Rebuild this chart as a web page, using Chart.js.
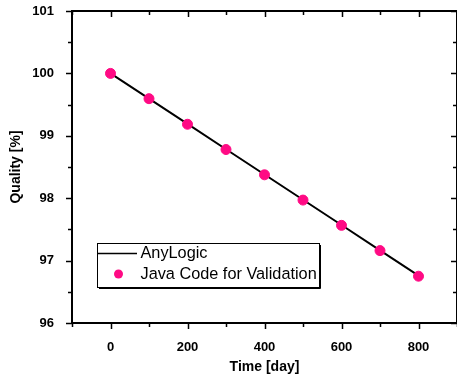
<!DOCTYPE html>
<html>
<head>
<meta charset="utf-8">
<script src="https://cdn.jsdelivr.net/npm/chart.js@4"></script>
<style>
  html, body { margin: 0; padding: 0; background: #fff; overflow: hidden; }
  #wrap { width: 457px; height: 376px; position: relative; }
</style>
</head>
<body>
<div id="wrap"><canvas id="plot"></canvas></div>
<script>
const DAYS = [0, 100, 200, 300, 400, 500, 600, 700, 800];
const ANYLOGIC_QUALITY = [100, 99.595, 99.19, 98.785, 98.38, 97.975, 97.57, 97.165, 96.76];
const JAVA_QUALITY = [100, 99.595, 99.185, 98.78, 98.375, 97.97, 97.565, 97.16, 96.75];
const X_LABELS = [0, 200, 400, 600, 800];
const Y_LABELS = [96, 97, 98, 99, 100, 101];

const PINK = '#ff0a84';
const TICK_FONT = { family: 'Liberation Sans, Arial, sans-serif', size: 13, weight: 'bold' };
const TITLE_FONT = { family: 'Liberation Sans, Arial, sans-serif', size: 14, weight: 'bold' };

const toPoints = (values) => values.map((y, i) => ({ x: DAYS[i], y }));

// frame, ticks on all four sides, legend box
const framePlugin = {
  id: 'frame',
  afterDraw(chart) {
    const { ctx, chartArea: a, scales } = chart;
    ctx.save();
    ctx.strokeStyle = '#000';
    ctx.lineWidth = 2;
    ctx.strokeRect(a.left, a.top, a.right - a.left, a.bottom - a.top);

    ctx.lineWidth = 1.5;
    ctx.beginPath();
    scales.x.ticks.forEach((t) => {
      const px = Math.round(scales.x.getPixelForValue(t.value)) + 0.5;
      const len = X_LABELS.includes(t.value) ? 6 : 4;
      ctx.moveTo(px, a.bottom); ctx.lineTo(px, a.bottom + len);
      ctx.moveTo(px, a.top); ctx.lineTo(px, a.top + len);
    });
    scales.y.ticks.forEach((t) => {
      const py = Math.round(scales.y.getPixelForValue(t.value)) + 0.5;
      const len = Y_LABELS.includes(t.value) ? 6 : 4;
      ctx.moveTo(a.left, py); ctx.lineTo(a.left - len, py);
      ctx.moveTo(a.right, py); ctx.lineTo(a.right - len, py);
    });
    ctx.stroke();

    // legend
    ctx.fillStyle = '#fff';
    ctx.fillRect(97.5, 243.5, 222, 44);
    ctx.lineWidth = 1;
    ctx.strokeRect(97.5, 243.5, 222, 44);
    ctx.beginPath();
    ctx.moveTo(99, 288.5); ctx.lineTo(320.5, 288.5); ctx.lineTo(320.5, 245);
    ctx.stroke();
    ctx.lineWidth = 1.5;
    ctx.beginPath();
    ctx.moveTo(98, 253.5); ctx.lineTo(137, 253.5);
    ctx.stroke();
    ctx.fillStyle = PINK;
    ctx.beginPath();
    ctx.arc(118.5, 274, 4.5, 0, Math.PI * 2);
    ctx.fill();
    ctx.fillStyle = '#000';
    ctx.font = '16.3px "Liberation Sans", Arial, sans-serif';
    ctx.textBaseline = 'middle';
    ctx.fillText('AnyLogic', 140.5, 254);
    ctx.fillText('Java Code for Validation', 140.5, 275);
    ctx.restore();
  }
};

new Chart(document.getElementById('plot'), {
  type: 'line',
  data: {
    datasets: [
      {
        label: 'AnyLogic',
        data: toPoints(ANYLOGIC_QUALITY),
        borderColor: '#000',
        borderWidth: 2,
        pointRadius: 0,
        showLine: true,
        order: 2
      },
      {
        label: 'Java Code for Validation',
        data: toPoints(JAVA_QUALITY),
        showLine: false,
        pointRadius: 5,
        pointBackgroundColor: PINK,
        pointBorderColor: PINK,
        order: 1
      }
    ]
  },
  options: {
    responsive: true,
    maintainAspectRatio: false,
    animation: false,
    layout: { autoPadding: false, padding: { top: 11, right: -2, left: 0, bottom: 0 } },
    plugins: { legend: { display: false }, tooltip: { enabled: false } },
    scales: {
      x: {
        type: 'linear',
        min: -100,
        max: 900,
        afterFit: (s) => { s.height = 53; s.paddingLeft = 0; s.paddingRight = 0; },
        grid: { display: false },
        border: { display: false },
        ticks: {
          stepSize: 100,
          autoSkip: false,
          maxRotation: 0,
          padding: 9,
          color: '#000',
          font: TICK_FONT,
          callback: (v) => (X_LABELS.includes(v) ? String(v) : '')
        },
        title: { display: true, text: 'Time [day]', color: '#000', font: TITLE_FONT, padding: { top: 0, bottom: 0 } }
      },
      y: {
        type: 'linear',
        min: 96,
        max: 101,
        afterFit: (s) => { s.width = 72; s.paddingTop = 0; s.paddingBottom = 0; },
        grid: { display: false },
        border: { display: false },
        ticks: {
          stepSize: 0.5,
          autoSkip: false,
          padding: 10,
          color: '#000',
          font: TICK_FONT,
          callback: (v) => (Y_LABELS.includes(v) ? String(v) : '')
        },
        title: { display: true, text: 'Quality [%]', color: '#000', font: TITLE_FONT, padding: { top: 8, bottom: 0 } }
      }
    }
  },
  plugins: [framePlugin]
});
</script>
</body>
</html>
